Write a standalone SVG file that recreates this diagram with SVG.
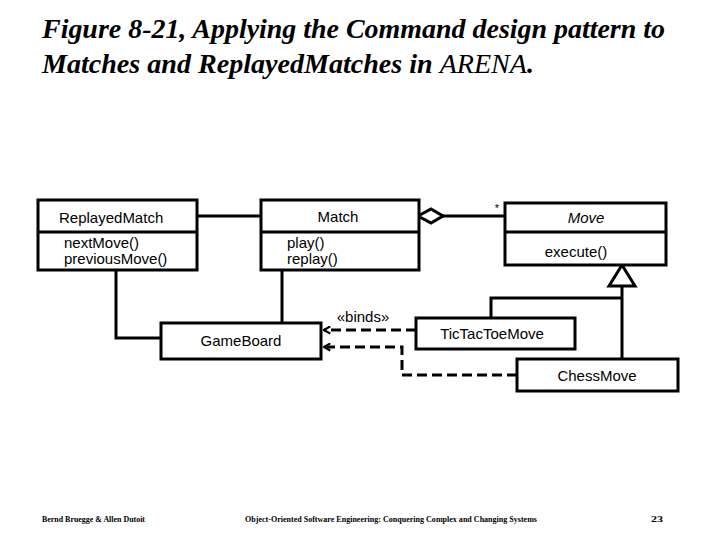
<svg xmlns="http://www.w3.org/2000/svg" width="720" height="540" viewBox="0 0 720 540">
<defs>
<style>
.box{fill:#fff;stroke:#000;stroke-width:3}
.ln{fill:none;stroke:#000;stroke-width:3}
.dash{fill:none;stroke:#000;stroke-width:3;stroke-dasharray:10 5}
.t{font-family:"Liberation Sans",Arial,sans-serif;font-size:15px;fill:#000}
.c{text-anchor:middle}
.title{font-family:"Liberation Serif","Times New Roman",serif;font-size:28px;font-style:italic;font-weight:bold;fill:#000}
.foot{font-family:"Liberation Serif","Times New Roman",serif;font-size:8px;font-weight:bold;fill:#000}
</style>
<marker id="open" viewBox="0 0 10 10" refX="9" refY="5" markerWidth="9" markerHeight="9" markerUnits="userSpaceOnUse" orient="auto">
<path d="M2,1 L9,5 L2,9" fill="none" stroke="#000" stroke-width="2.4"/>
</marker>
</defs>
<rect width="720" height="540" fill="#fff"/>
<text class="title" x="42" y="38" textLength="623" lengthAdjust="spacingAndGlyphs">Figure 8-21, Applying the Command design pattern to</text>
<text class="title" x="42" y="73" textLength="492" lengthAdjust="spacingAndGlyphs">Matches and ReplayedMatches in <tspan font-weight="normal">ARENA</tspan>.</text>

<g id="connectors">
<line class="ln" x1="197" y1="216" x2="261" y2="216"/>
<line class="ln" x1="443" y1="216" x2="505" y2="216"/>
<path class="ln" d="M116,270 V338 H161"/>
<line class="ln" x1="282" y1="270" x2="282" y2="323"/>
<line class="ln" x1="622" y1="286" x2="622" y2="359"/>
<path class="ln" d="M622,298 H491 V318"/>
<polygon class="box" points="622,265 609,286 635,286"/>
<polygon class="box" points="418,216 431,209 443,216 431,223"/>
<text x="497" y="212" font-family="Liberation Sans, Arial, sans-serif" font-size="11" text-anchor="middle">*</text>
<path class="dash" d="M416,330 H324" marker-end="url(#open)"/>
<path class="dash" d="M517,375 H402 V347 H324" marker-end="url(#open)"/>
<text class="t c" x="363" y="322">«binds»</text>
</g>

<g id="ReplayedMatch">
<rect class="box" x="38" y="200" width="159" height="70"/>
<line class="ln" x1="38" y1="232" x2="197" y2="232"/>
<text class="t" x="59" y="223">ReplayedMatch</text>
<text class="t" x="64" y="248">nextMove()</text>
<text class="t" x="64" y="264">previousMove()</text>
</g>

<g id="Match">
<rect class="box" x="261" y="200" width="158" height="70"/>
<line class="ln" x1="261" y1="232" x2="419" y2="232"/>
<text class="t c" x="338" y="222">Match</text>
<text class="t" x="287" y="248">play()</text>
<text class="t" x="287" y="264">replay()</text>
</g>

<g id="Move">
<rect class="box" x="505" y="203" width="161" height="62"/>
<line class="ln" x1="505" y1="232" x2="666" y2="232"/>
<text class="t c" x="586" y="223" font-style="italic">Move</text>
<text class="t c" x="576" y="257">execute()</text>
</g>

<g id="GameBoard">
<rect class="box" x="161" y="323" width="160" height="36"/>
<text class="t c" x="241" y="346">GameBoard</text>
</g>

<g id="TicTacToeMove">
<rect class="box" x="416" y="318" width="159" height="31"/>
<text class="t c" x="492" y="339">TicTacToeMove</text>
</g>

<g id="ChessMove">
<rect class="box" x="517" y="359" width="161" height="32"/>
<text class="t c" x="597" y="381">ChessMove</text>
</g>

<text class="foot" x="42" y="522" textLength="103" lengthAdjust="spacingAndGlyphs">Bernd Bruegge &amp; Allen Dutoit</text>
<text class="foot" x="245" y="522" textLength="292" lengthAdjust="spacingAndGlyphs">Object-Oriented Software Engineering: Conquering Complex and Changing Systems</text>
<text class="foot" x="651" y="522" textLength="12" lengthAdjust="spacingAndGlyphs">23</text>
</svg>
